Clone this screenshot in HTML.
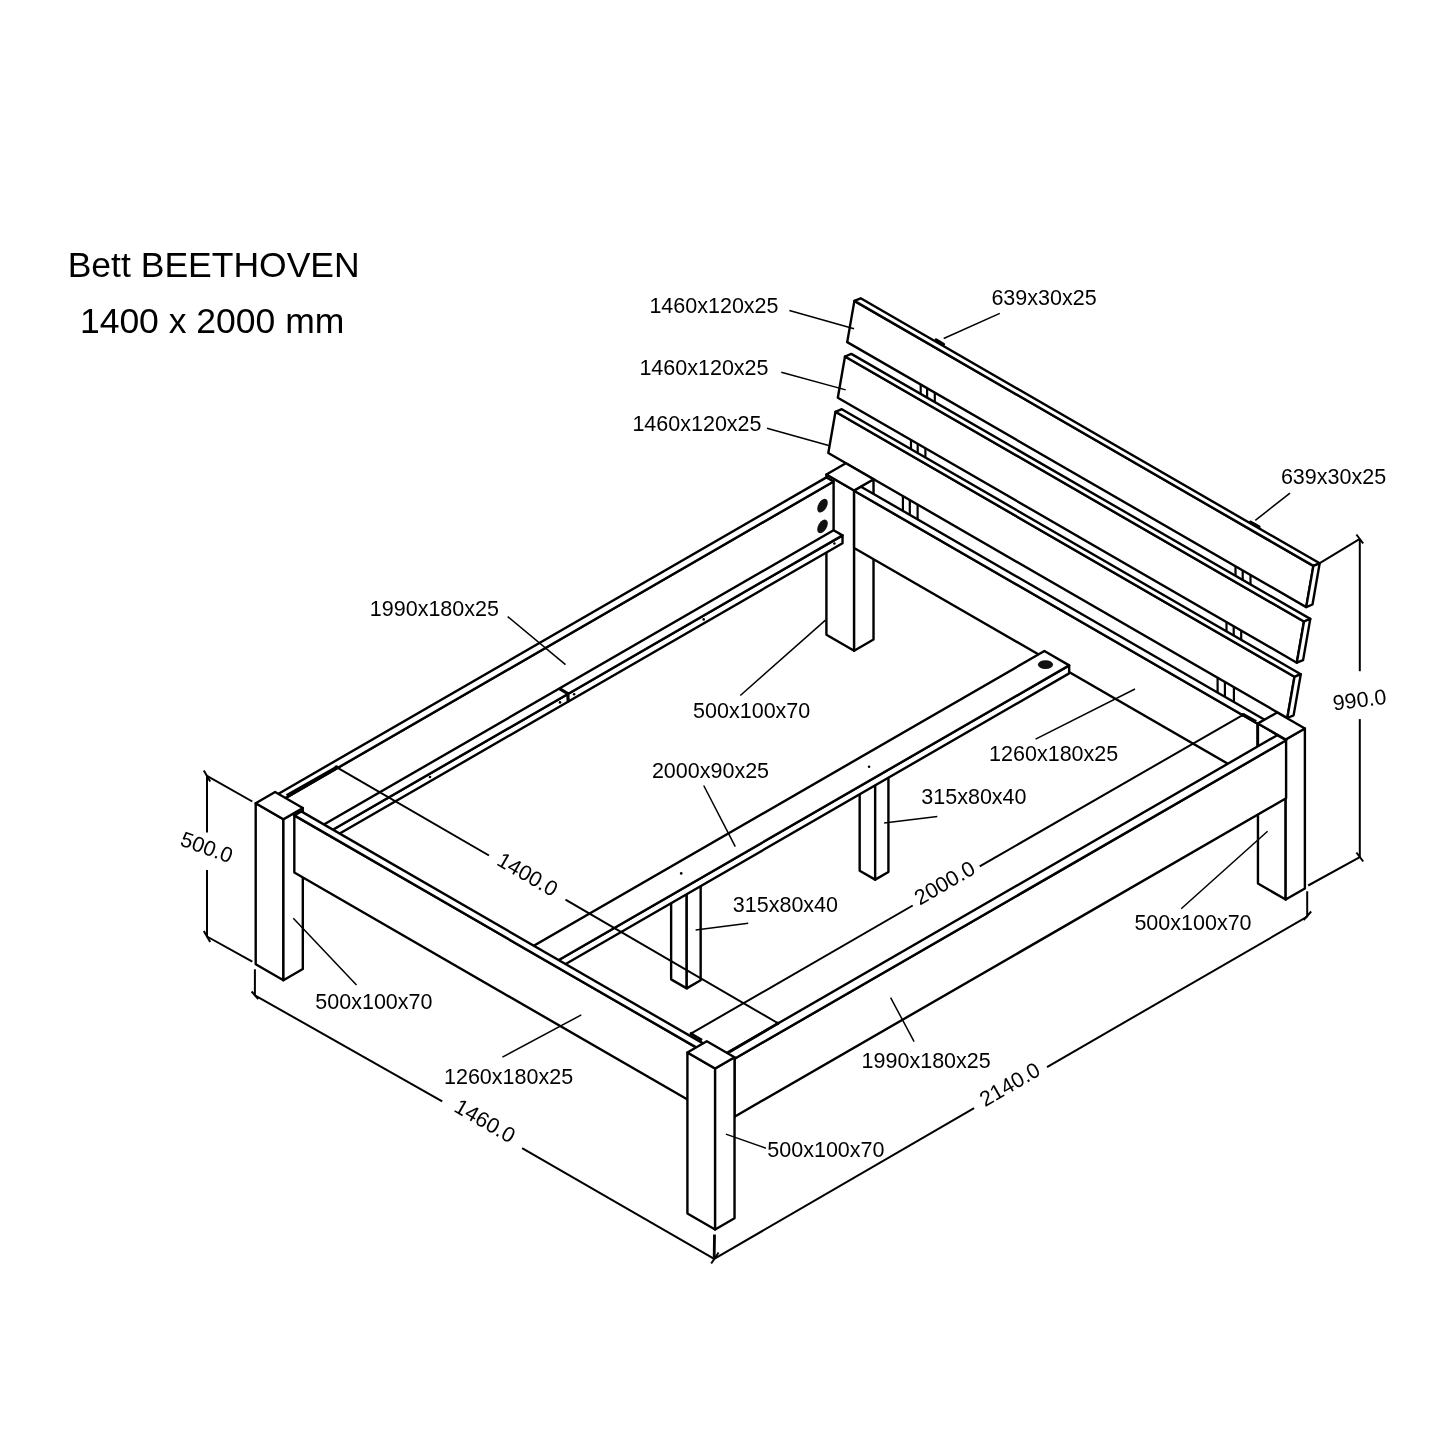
<!DOCTYPE html>
<html><head><meta charset="utf-8"><title>Bett BEETHOVEN</title>
<style>html,body{margin:0;padding:0;background:#fff;width:1445px;height:1445px;overflow:hidden}svg{display:block;filter:grayscale(1)}</style>
</head><body>
<svg width="1445" height="1445" viewBox="0 0 1445 1445">
<style>
.o{fill:#fff;stroke:#000;stroke-width:2.4;stroke-linejoin:round}
.l{stroke:#000;stroke-width:1.6}
.d{stroke:#000;stroke-width:2.0}
.tk{stroke:#000;stroke-width:2.0}
.ext{stroke:#000;stroke-width:2.8}
.ld{stroke:#000;stroke-width:1.5}
.bt{stroke:#000;stroke-width:2.2}
.thk{stroke:#000;stroke-width:3.2;stroke-linecap:round}
.hole{fill:#111}
.dot{fill:#000}
text{font-family:"Liberation Sans",sans-serif;fill:#000}
.lb{font-size:21.5px}
.ti{font-size:35.5px}
.rc{text-anchor:middle;dominant-baseline:central}
</style>
<rect width="1445" height="1445" fill="#fff"/>
<line class="bt" x1="920.70" y1="381.54" x2="920.70" y2="396.97"/>
<line class="bt" x1="927.10" y1="385.23" x2="927.10" y2="400.66"/>
<line class="bt" x1="934.80" y1="389.68" x2="934.80" y2="405.11"/>
<line class="bt" x1="1235.50" y1="563.29" x2="1235.50" y2="578.72"/>
<line class="bt" x1="1242.70" y1="567.44" x2="1242.70" y2="582.87"/>
<line class="bt" x1="1250.50" y1="571.95" x2="1250.50" y2="587.38"/>
<line class="bt" x1="911.00" y1="436.96" x2="911.00" y2="452.15"/>
<line class="bt" x1="917.70" y1="440.83" x2="917.70" y2="456.02"/>
<line class="bt" x1="925.40" y1="445.28" x2="925.40" y2="460.47"/>
<line class="bt" x1="1226.50" y1="619.12" x2="1226.50" y2="634.31"/>
<line class="bt" x1="1233.70" y1="623.27" x2="1233.70" y2="638.46"/>
<line class="bt" x1="1241.20" y1="627.60" x2="1241.20" y2="642.79"/>
<line class="bt" x1="902.90" y1="493.07" x2="902.90" y2="513.86"/>
<line class="bt" x1="909.80" y1="497.05" x2="909.80" y2="517.84"/>
<line class="bt" x1="917.60" y1="501.56" x2="917.60" y2="522.35"/>
<line class="bt" x1="1217.60" y1="674.76" x2="1217.60" y2="695.55"/>
<line class="bt" x1="1224.90" y1="678.98" x2="1224.90" y2="699.77"/>
<line class="bt" x1="1233.90" y1="684.17" x2="1233.90" y2="704.96"/>
<polygon class="o" points="854.40,300.90 1313.39,565.90 1306.19,607.10 847.20,342.10"/>
<polygon class="o" points="854.40,300.90 860.70,298.30 1319.69,563.30 1313.39,565.90"/>
<polygon class="o" points="1313.39,565.90 1319.69,563.30 1312.49,604.50 1306.19,607.10"/>
<polygon class="o" points="845.00,356.50 1303.99,621.50 1296.79,662.70 837.80,397.70"/>
<polygon class="o" points="845.00,356.50 851.30,353.90 1310.29,618.90 1303.99,621.50"/>
<polygon class="o" points="1303.99,621.50 1310.29,618.90 1303.09,660.10 1296.79,662.70"/>
<polygon class="o" points="835.50,411.80 1294.49,676.80 1287.29,718.00 828.30,453.00"/>
<polygon class="o" points="835.50,411.80 841.80,409.20 1300.79,674.20 1294.49,676.80"/>
<polygon class="o" points="1294.49,676.80 1300.79,674.20 1293.59,715.40 1287.29,718.00"/>
<polygon class="o" points="826.41,634.70 854.12,650.70 854.12,490.50 826.41,474.50"/>
<polygon class="o" points="854.12,650.70 873.52,639.50 873.52,479.30 854.12,490.50"/>
<polygon class="o" points="826.41,474.50 854.12,490.50 873.52,479.30 845.81,463.30"/>
<polygon class="o" points="854.12,547.95 1257.69,780.95 1257.69,723.70 854.12,490.70"/>
<polygon class="o" points="1257.69,780.95 1264.62,776.95 1264.62,719.70 1257.69,723.70"/>
<polygon class="o" points="854.12,490.70 1257.69,723.70 1264.62,719.70 861.05,486.70"/>
<polygon class="o" points="1257.95,883.55 1285.66,899.55 1285.66,739.55 1257.95,723.55"/>
<polygon class="o" points="1285.66,899.55 1304.89,888.45 1304.89,728.45 1285.66,739.55"/>
<polygon class="o" points="1257.95,723.55 1285.66,739.55 1304.89,728.45 1277.18,712.45"/>
<polygon class="o" points="671.13,979.35 686.72,988.35 686.72,887.35 671.13,878.35"/>
<polygon class="o" points="686.72,988.35 700.66,980.30 700.66,879.30 686.72,887.35"/>
<polygon class="o" points="671.13,878.35 686.72,887.35 700.66,879.30 685.08,870.30"/>
<polygon class="o" points="859.67,870.70 875.17,879.65 875.17,778.65 859.67,769.70"/>
<polygon class="o" points="875.17,879.65 888.42,872.00 888.42,771.00 875.17,778.65"/>
<polygon class="o" points="859.67,769.70 875.17,778.65 888.42,771.00 872.92,762.05"/>
<polygon class="o" points="491.09,978.50 515.85,992.80 515.85,984.80 491.09,970.50"/>
<polygon class="o" points="515.85,992.80 1069.16,673.35 1069.16,665.35 515.85,984.80"/>
<polygon class="o" points="491.09,970.50 515.85,984.80 1069.16,665.35 1044.39,651.05"/>
<polygon class="o" points="275.10,852.20 282.29,856.35 282.29,799.85 275.10,795.70"/>
<polygon class="o" points="282.29,856.35 833.60,538.05 833.60,481.55 282.29,799.85"/>
<polygon class="o" points="275.10,795.70 282.29,799.85 833.60,481.55 826.41,477.40"/>
<polygon class="o" points="282.29,856.35 291.21,861.50 291.21,853.70 282.29,848.55"/>
<polygon class="o" points="291.21,861.50 842.52,543.20 842.52,535.40 291.21,853.70"/>
<polygon class="o" points="282.29,848.55 291.21,853.70 842.52,535.40 833.60,530.25"/>
<polygon class="o" points="725.69,1111.65 734.53,1116.75 734.53,1058.75 725.69,1053.65"/>
<polygon class="o" points="734.53,1116.75 1286.10,798.30 1286.10,740.30 734.53,1058.75"/>
<polygon class="o" points="725.69,1053.65 734.53,1058.75 1286.10,740.30 1277.26,735.20"/>
<polygon class="o" points="255.70,964.20 283.41,980.20 283.41,819.20 255.70,803.20"/>
<polygon class="o" points="283.41,980.20 302.81,969.00 302.81,808.00 283.41,819.20"/>
<polygon class="o" points="255.70,803.20 283.41,819.20 302.81,808.00 275.10,792.00"/>
<polygon class="o" points="294.32,872.50 698.33,1105.75 698.33,1048.65 294.32,815.40"/>
<polygon class="o" points="698.33,1105.75 705.25,1101.75 705.25,1044.65 698.33,1048.65"/>
<polygon class="o" points="294.32,815.40 698.33,1048.65 705.25,1044.65 301.25,811.40"/>
<polygon class="o" points="687.41,1213.45 715.13,1229.45 715.13,1068.45 687.41,1052.45"/>
<polygon class="o" points="715.13,1229.45 734.53,1218.25 734.53,1057.25 715.13,1068.45"/>
<polygon class="o" points="687.41,1052.45 715.13,1068.45 734.53,1057.25 706.81,1041.25"/>
<line class="thk" x1="936.00" y1="340.00" x2="943.50" y2="344.30"/>
<line class="thk" x1="1250.50" y1="522.20" x2="1259.00" y2="527.00"/>
<circle class="hole" r="6.1" transform="matrix(0.866,-0.5,0,-1,822.5,505.7)"/>
<circle class="hole" r="6.1" transform="matrix(0.866,-0.5,0,-1,822.5,526.4)"/>
<circle class="hole" r="6.2" transform="matrix(0.866,0.5,0.866,-0.5,1045.5,664.6)"/>
<circle class="dot" cx="703.7" cy="619.4" r="1.3"/>
<circle class="dot" cx="430" cy="777" r="1.3"/>
<circle class="dot" cx="560" cy="702.4" r="1.3"/>
<circle class="dot" cx="574.1" cy="694.2" r="1.3"/>
<circle class="dot" cx="869.1" cy="766.7" r="1.3"/>
<circle class="dot" cx="681.2" cy="873.4" r="1.3"/>
<circle class="dot" cx="834.4" cy="543.5" r="1.3"/>
<line class="thk" x1="560.30" y1="689.20" x2="567.80" y2="693.60"/>
<line class="thk" x1="567.80" y1="693.60" x2="568.20" y2="700.80"/>
<line class="d" x1="207.00" y1="775.80" x2="207.00" y2="832.50"/>
<line class="d" x1="207.00" y1="870.00" x2="207.00" y2="936.50"/>
<line class="d" x1="207.00" y1="775.80" x2="252.30" y2="801.50"/>
<line class="d" x1="207.00" y1="936.50" x2="252.30" y2="961.60"/>
<line class="d" x1="254.90" y1="969.30" x2="254.90" y2="995.30"/>
<line class="ext" x1="714.50" y1="1234.50" x2="714.20" y2="1257.50"/>
<line class="d" x1="254.90" y1="995.30" x2="442.20" y2="1101.40"/>
<line class="d" x1="522.10" y1="1148.20" x2="714.20" y2="1258.90"/>
<line class="d" x1="1307.20" y1="891.30" x2="1307.20" y2="916.70"/>
<line class="d" x1="714.20" y1="1258.90" x2="974.10" y2="1108.20"/>
<line class="d" x1="1047.00" y1="1067.10" x2="1307.20" y2="916.70"/>
<line class="d" x1="1359.80" y1="538.90" x2="1359.80" y2="671.20"/>
<line class="d" x1="1359.80" y1="719.10" x2="1359.80" y2="857.20"/>
<line class="d" x1="1320.20" y1="562.90" x2="1359.80" y2="538.90"/>
<line class="d" x1="1308.20" y1="885.50" x2="1359.80" y2="857.20"/>
<line class="tk" x1="203.80" y1="770.50" x2="210.20" y2="781.50"/>
<line class="tk" x1="203.80" y1="931.00" x2="210.20" y2="942.00"/>
<line class="tk" x1="251.60" y1="991.50" x2="258.20" y2="999.10"/>
<line class="tk" x1="711.20" y1="1263.50" x2="718.60" y2="1252.50"/>
<line class="tk" x1="1303.60" y1="920.00" x2="1311.20" y2="911.50"/>
<line class="tk" x1="1356.40" y1="534.50" x2="1363.20" y2="543.50"/>
<line class="tk" x1="1356.40" y1="852.50" x2="1363.20" y2="861.50"/>
<line class="d" x1="336.40" y1="767.10" x2="489.00" y2="855.50"/>
<line class="d" x1="565.50" y1="899.70" x2="777.60" y2="1023.00"/>
<line class="ext" x1="286.60" y1="795.40" x2="336.40" y2="767.10"/>
<line class="ext" x1="729.70" y1="1051.90" x2="777.60" y2="1023.60"/>
<line class="d" x1="690.90" y1="1033.60" x2="912.70" y2="905.50"/>
<line class="d" x1="979.70" y1="866.40" x2="1243.50" y2="714.60"/>
<line class="ext" x1="690.90" y1="1033.60" x2="702.00" y2="1040.20"/>
<line class="ext" x1="1243.50" y1="714.60" x2="1256.20" y2="721.40"/>
<circle class="dot" cx="336.4" cy="767.1" r="1.9"/>
<circle class="dot" cx="777.6" cy="1023.3" r="1.9"/>
<circle class="dot" cx="691.5" cy="1033.6" r="1.9"/>
<circle class="dot" cx="1243" cy="714.8" r="1.9"/>
<line class="ld" x1="789.40" y1="310.50" x2="854.05" y2="328.80"/>
<line class="ld" x1="781.30" y1="372.20" x2="845.70" y2="389.90"/>
<line class="ld" x1="767.00" y1="428.20" x2="828.70" y2="445.50"/>
<line class="ld" x1="999.80" y1="313.40" x2="943.70" y2="338.50"/>
<line class="ld" x1="1290.00" y1="493.20" x2="1255.30" y2="520.30"/>
<line class="ld" x1="507.70" y1="616.60" x2="565.50" y2="664.60"/>
<line class="ld" x1="740.30" y1="695.50" x2="825.50" y2="620.10"/>
<line class="ld" x1="1035.60" y1="739.20" x2="1135.00" y2="689.00"/>
<line class="ld" x1="703.70" y1="785.50" x2="735.30" y2="846.60"/>
<line class="ld" x1="937.30" y1="816.50" x2="884.10" y2="822.90"/>
<line class="ld" x1="748.20" y1="923.30" x2="695.60" y2="929.90"/>
<line class="ld" x1="1181.20" y1="908.80" x2="1267.60" y2="831.20"/>
<line class="ld" x1="293.30" y1="918.30" x2="356.50" y2="984.90"/>
<line class="ld" x1="502.40" y1="1057.20" x2="581.30" y2="1014.90"/>
<line class="ld" x1="914.10" y1="1041.60" x2="890.60" y2="997.60"/>
<line class="ld" x1="725.90" y1="1134.10" x2="765.90" y2="1148.20"/>
<text class="lb" x="649.4" y="313.0">1460x120x25</text>
<text class="lb" x="639.4" y="374.7">1460x120x25</text>
<text class="lb" x="632.4" y="430.7">1460x120x25</text>
<text class="lb" x="991.4" y="304.9">639x30x25</text>
<text class="lb" x="1280.9" y="483.8">639x30x25</text>
<text class="lb" x="369.8" y="615.9">1990x180x25</text>
<text class="lb" x="861.6" y="1068.2">1990x180x25</text>
<text class="lb" x="693.1" y="717.6">500x100x70</text>
<text class="lb" x="315.3" y="1009.1">500x100x70</text>
<text class="lb" x="767.3" y="1156.5">500x100x70</text>
<text class="lb" x="1134.4" y="930.0">500x100x70</text>
<text class="lb" x="651.9" y="777.9">2000x90x25</text>
<text class="lb" x="989.1" y="761.3">1260x180x25</text>
<text class="lb" x="444.0" y="1083.8">1260x180x25</text>
<text class="lb" x="921.3" y="804.4">315x80x40</text>
<text class="lb" x="732.8" y="911.5">315x80x40</text>
<text class="lb rc" x="206.7" y="847.7" transform="rotate(20 206.7 847.7)">500.0</text>
<text class="lb rc" x="527.4" y="874.7" transform="rotate(30 527.4 874.7)">1400.0</text>
<text class="lb rc" x="484.8" y="1121.2" transform="rotate(30 484.8 1121.2)">1460.0</text>
<text class="lb rc" x="944.8" y="883.2" transform="rotate(-30 944.8 883.2)">2000.0</text>
<text class="lb rc" x="1010.0" y="1084.7" transform="rotate(-30 1010.0 1084.7)">2140.0</text>
<text class="lb rc" x="1359.6" y="700.2" transform="rotate(-7 1359.6 700.2)">990.0</text>
<text class="ti" x="67.7" y="276.5">Bett BEETHOVEN</text>
<text class="ti" x="79.9" y="332.7">1400 x 2000 mm</text>
</svg>
</body></html>
